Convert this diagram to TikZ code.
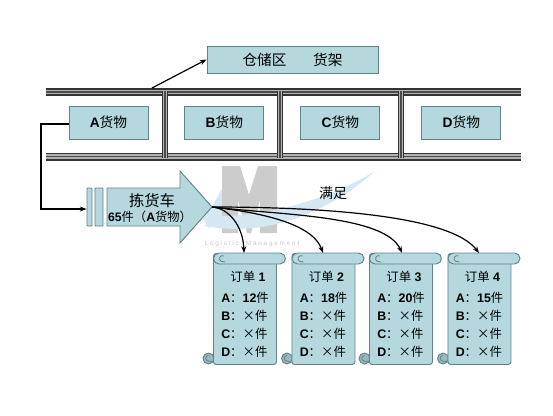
\documentclass[tikz,border=0pt]{standalone}
\usepackage{fontspec}
\setmainfont{Liberation Sans}
\newfontfamily\cjk{Noto Sans CJK SC}
\usepackage{xcolor}
\usetikzlibrary{arrows.meta, positioning, calc}
\definecolor{boxfill}{HTML}{B4D8DD}
\definecolor{boxline}{HTML}{5F8488}
\definecolor{curlfill}{HTML}{9DB8BC}
\definecolor{swoosh}{HTML}{D3E8F3}
\newcommand{\zh}[1]{{\cjk #1}}
% one order sheet: name, x of left edge, title, line A
\newcommand{\ordersheet}[4]{%
    \draw[sheet, fill=curlfill] (#2+5.5,358.5) circle[radius=5.5];
    \draw[boxline, line width=0.6pt] (#2+5.5,355.5) arc[start angle=-90, end angle=-270, radius=2.8] -- (#2+9,361.5);
    \node[sheetbody, anchor=north west] (#1) at (#2+10,253) {};
    \draw[sheet] (#2+16,253) -- (#2+77,253) arc[start angle=-90, end angle=90, radius=5.5] -- (#2+16,264)
        arc[start angle=90, end angle=270, radius=5.5] -- cycle;
    \draw[boxline, line width=0.6pt] (#2+21,256) arc[start angle=-60, end angle=-270, radius=3] -- (#2+22,262);
    \node[sheettext] at (#2+45,277) {\zh{订单} \textbf{#3}};
    \node[sheettext, anchor=west] at (#2+18,298) {\textbf{A}\zh{：}\textbf{#4}\zh{件}};
    \node[sheettext, anchor=west] at (#2+18,316) {\textbf{B}\zh{：×件}};
    \node[sheettext, anchor=west] at (#2+18,334) {\textbf{C}\zh{：×件}};
    \node[sheettext, anchor=west] at (#2+18,352) {\textbf{D}\zh{：×件}};
}
\begin{document}
\begin{tikzpicture}[
    x=0.75pt, y=-0.75pt,
    box/.style={rectangle, draw=boxline, fill=boxfill, line width=0.7pt, minimum width=59.25pt, minimum height=24.75pt, inner sep=0pt, font=\fontsize{10.3pt}{12pt}\selectfont},
    sheet/.style={draw=boxline, fill=boxfill, line width=0.7pt},
    sheetbody/.style={rectangle, draw=boxline, fill=boxfill, line width=0.7pt, rounded corners=2pt, minimum width=47.25pt, minimum height=83.25pt, inner sep=0pt},
    sheettext/.style={inner sep=0pt, font=\fontsize{9.3pt}{10pt}\selectfont},
    railback/.style={line width=6pt, black!80},
    railgap/.style={line width=3.6pt, black!30},
    railmid/.style={line width=1.4pt, black!70},
    order/.style={-{Stealth[length=5pt]}, line width=0.9pt}
]
    \useasboundingbox (0,0) rectangle (553,415);
    % Watermark
    \fill[swoosh] (203,219) .. controls (215,205) and (222,185) .. (236,168) .. controls (240,190) and (228,215) .. (209,228) -- cycle;
    \fill[black!20] (222,233) -- (222,166) -- (240,166) -- (249,195) -- (258,166) -- (277,166) -- (277,233) -- (260,233) -- (260,200) -- (251,233) -- (247,233) -- (238,200) -- (238,233) -- cycle;
    \fill[swoosh] (205,226) .. controls (265,238) and (330,212) .. (375,171) .. controls (335,196) and (270,218) .. (210,216) -- cycle;
    \node[black!22, font=\fontsize{4.8pt}{5pt}\selectfont] (mark) at (252,244) {L o g i s t i c \ \ \ M a n a g e m e n t};

    % Warehouse label
    \node[box, minimum width=128.25pt, minimum height=20.25pt] (store) at (292.5,59.5) {\fontsize{11pt}{12pt}\selectfont\zh{仓储区\hspace{20pt}货架}};

    % Shelf rails
    \coordinate (railA) at (46,92);
    \coordinate (railB) at (521,92);
    \coordinate (railC) at (46,156.5);
    \coordinate (railD) at (521,156.5);
    \draw[railback] (railA) -- (railB);
    \draw[railgap] (railA) -- (railB);
    \draw[railmid] (railA) -- (railB);
    \draw[railback] (railC) -- (railD);
    \draw[railgap] (railC) -- (railD);
    \draw[railmid] (railC) -- (railD);
    \foreach \x in {165,280,401} {
        \draw[railback, line width=5pt] (\x,91) -- (\x,158);
        \draw[railgap, line width=3pt] (\x,91) -- (\x,158);
        \draw[railmid, line width=1.2pt] (\x,91) -- (\x,158);
    }
    \coordinate (railtop) at (152,88);
    \draw[-{Stealth[length=5pt]}, line width=0.9pt] (railtop) -- (store.west);

    % Goods
    \node[box] (goodsA) at (108.5,122.5) {\textbf{A}\zh{货物}};
    \node[box, right=27pt of goodsA] (goodsB) {\textbf{B}\zh{货物}};
    \node[box, right=27pt of goodsB] (goodsC) {\textbf{C}\zh{货物}};
    \node[box, right=30.75pt of goodsC] (goodsD) {\textbf{D}\zh{货物}};

    % Picking cart
    \node[sheet, minimum width=3.75pt, minimum height=28.5pt, inner sep=0pt, rounded corners=0.5pt] (stripA) at (89.5,207) {};
    \node[sheet, minimum width=6pt, minimum height=28.5pt, inner sep=0pt, rounded corners=0.5pt] (stripB) at (99,207) {};
    \draw[sheet] (107,188) -- (180,188) -- (180,171) -- (212,207) -- (180,243) -- (180,226) -- (107,226) -- cycle;
    \coordinate (cart) at (212,207);
    \node[inner sep=0pt, font=\fontsize{11.5pt}{12pt}\selectfont] (cartname) at (152,201) {\zh{拣货车}};
    \node[inner sep=0pt, font=\fontsize{9.2pt}{10pt}\selectfont] (cartload) at (150,217) {\textbf{65}\zh{件（}\textbf{A}\zh{货物）}};

    % Pick route
    \draw[-{Stealth[length=5pt]}, line width=1.5pt] (goodsA.west |- 0,124) -- (41,124) -- (41,209) -- (stripA.west |- 0,209);

    \node[inner sep=0pt, font=\fontsize{10.5pt}{12pt}\selectfont] (enough) at (333,193) {\zh{满足}};

    % Orders
    \ordersheet{orderA}{203}{1}{12}
    \ordersheet{orderB}{281.5}{2}{18}
    \ordersheet{orderC}{359}{3}{20}
    \ordersheet{orderD}{437.5}{4}{15}
    \coordinate (tipA) at (244,253);
    \coordinate (tipB) at (323,253);
    \coordinate (tipC) at (402,253);
    \coordinate (tipD) at (479,253);
    \draw[order] (cart) .. controls (228,208) and (243,225) .. (tipA);
    \draw[order] (cart) .. controls (255,212) and (312,222) .. (tipB);
    \draw[order] (cart) .. controls (280,215) and (385,215) .. (tipC);
    \draw[order] (cart) .. controls (320,207) and (450,215) .. (tipD);
\end{tikzpicture}
\end{document}
